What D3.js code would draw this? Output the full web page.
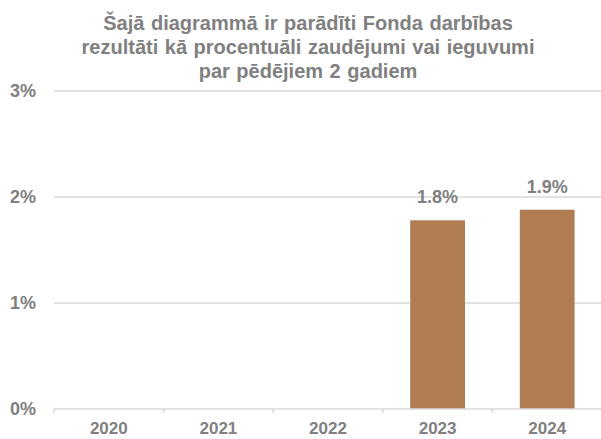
<!DOCTYPE html>
<html>
<head>
<meta charset="utf-8">
<script src="https://cdn.jsdelivr.net/npm/d3@7"></script>
<style>
  body { margin: 0; background: #fff; }
  text { font-family: "Liberation Sans", Arial, sans-serif; font-weight: bold; fill: #808080; }
</style>
</head>
<body>
<div id="chart"></div>
<script>
const years = ["2020", "2021", "2022", "2023", "2024"];
const values = [null, null, null, 1.78, 1.88];
const valueLabels = ["", "", "", "1.8%", "1.9%"];
const yTicks = [0, 1, 2, 3];
const titleLines = [
    "Šajā diagrammā ir parādīti Fonda darbības",
    "rezultāti kā procentuāli zaudējumi vai ieguvumi",
    "par pēdējiem 2 gadiem"
];

const W = 601, H = 439;
const margin = { top: 91, right: 0, bottom: 30, left: 54 };

const svg = d3.select("#chart")
    .append("svg")
    .attr("width", W)
    .attr("height", H);

const x = d3.scaleBand()
    .domain(years)
    .range([margin.left, 602])
    .paddingInner(0.5)
    .paddingOuter(0.25);

const y = d3.scaleLinear()
    .domain([0, 3])
    .range([409, 91]);

// title
svg.append("g").selectAll("text")
    .data(titleLines)
    .join("text")
    .attr("x", 308)
    .attr("y", (d, i) => 30 + i * 24)
    .attr("text-anchor", "middle")
    .style("font-size", "20px")
    .style("word-spacing", "1px")
    .text(d => d);

// gridlines
svg.append("g").selectAll("line")
    .data(yTicks.filter(d => d > 0))
    .join("line")
    .attr("x1", margin.left)
    .attr("x2", W)
    .attr("y1", d => y(d))
    .attr("y2", d => y(d))
    .attr("stroke", "#d9d9d9")
    .attr("stroke-width", 1.5);

// y labels
svg.append("g").selectAll("text")
    .data(yTicks)
    .join("text")
    .attr("x", 36)
    .attr("y", d => y(d) + 6)
    .attr("text-anchor", "end")
    .style("font-size", "18px")
    .text(d => d + "%");

// bars
const bars = years.map((d, i) => ({ year: d, v: values[i], label: valueLabels[i] }))
    .filter(d => d.v != null);

svg.append("g").selectAll("rect")
    .data(bars)
    .join("rect")
    .attr("x", d => x(d.year))
    .attr("y", d => y(d.v))
    .attr("width", x.bandwidth())
    .attr("height", d => y(0) - y(d.v))
    .attr("fill", "#b07d52");

svg.append("g").selectAll("text")
    .data(bars)
    .join("text")
    .attr("x", d => x(d.year) + x.bandwidth() / 2)
    .attr("y", d => y(d.v) - 17)
    .attr("text-anchor", "middle")
    .style("font-size", "18px")
    .text(d => d.label);

// x axis
const step = x.step();
const ax = svg.append("g");
ax.append("line")
    .attr("x1", margin.left)
    .attr("x2", W)
    .attr("y1", y(0))
    .attr("y2", y(0))
    .attr("stroke", "#d9d9d9")
    .attr("stroke-width", 1.5);
ax.selectAll(".tick")
    .data(years)
    .join("line")
    .attr("class", "tick")
    .attr("x1", d => x(d) + x.bandwidth() / 2 - step / 2)
    .attr("x2", d => x(d) + x.bandwidth() / 2 - step / 2)
    .attr("y1", y(0))
    .attr("y2", y(0) + 4)
    .attr("stroke", "#d9d9d9")
    .attr("stroke-width", 1.5);
ax.selectAll("text")
    .data(years)
    .join("text")
    .attr("x", d => x(d) + x.bandwidth() / 2)
    .attr("y", 434)
    .attr("text-anchor", "middle")
    .style("font-size", "17px")
    .text(d => d);
</script>
</body>
</html>
